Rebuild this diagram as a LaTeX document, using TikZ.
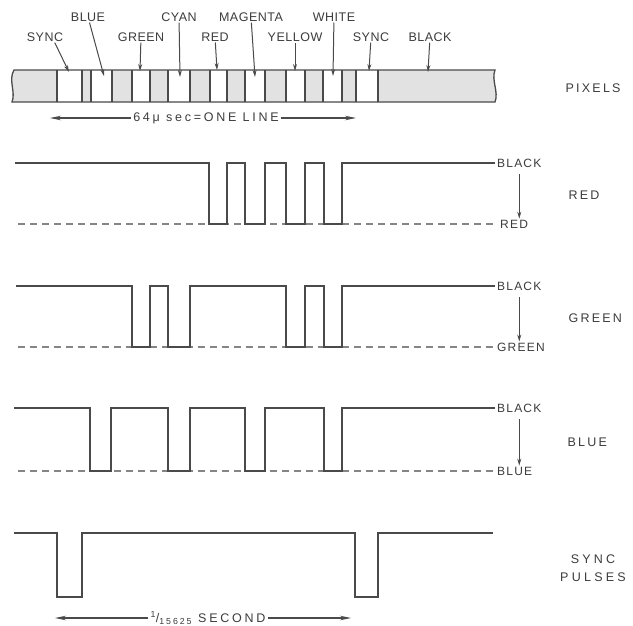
\documentclass[tikz,border=0pt]{standalone}
\usepackage{fontspec}
\setmainfont{Liberation Sans}
\usetikzlibrary{arrows.meta,positioning}
\definecolor{ink}{HTML}{4A4A4A}
\definecolor{lettering}{HTML}{3C3C3C}
\definecolor{dashgrey}{HTML}{858585}
\definecolor{barfill}{HTML}{E2E2E2}
\newfontfamily\tagfont[LetterSpace=4]{Liberation Sans}
\newfontfamily\levelfont[LetterSpace=10]{Liberation Sans}
\newfontfamily\sidefont[LetterSpace=18]{Liberation Sans}
\newfontfamily\pulsefont[LetterSpace=26]{Liberation Sans}
\newfontfamily\dimfont[LetterSpace=22]{Liberation Sans}

\begin{document}
\begin{tikzpicture}[
    x=1pt, y=-1pt,
    tag/.style={font=\tagfont\fontsize{12.5}{12}\selectfont, text=lettering, inner sep=1pt},
    level/.style={font=\levelfont\fontsize{12}{12}\selectfont, text=lettering, inner sep=1pt},
    side/.style={font=\sidefont\fontsize{12.5}{14}\selectfont, text=lettering, anchor=west},
    dim/.style={font=\dimfont\fontsize{12.5}{12}\selectfont, text=lettering, inner sep=2pt},
    ptr/.style={ink, line width=1pt, -{Stealth[length=7pt,width=4pt]}},
    dimline/.style={ink, line width=1.1pt, -{Stealth[length=11pt,width=4.5pt]}},
    barline/.style={ink, line width=1.3pt},
    wave/.style={ink, line width=1.3pt},
    base/.style={dashgrey, line width=1.3pt, dash pattern=on 7pt off 5pt}
]
    \useasboundingbox (0,0) rectangle (633,625);
    \fill[white] (0,0) rectangle (633,625);

    % the line of pixels
    \fill[barfill] (14,70) -- (495,70) .. controls (491,80) and (499,92) .. (495,102)
        -- (12,102) .. controls (16,92) and (8,80) .. (14,70) -- cycle;
    \foreach \a/\b in {57/82, 91/112, 132/150, 168/190, 210/227, 245/265, 286/305, 323/342, 356/378}
        \fill[white] (\a,70) rectangle (\b,102);
    \foreach \x in {57,82,91,112,132,150,168,190,210,227,245,265,286,305,323,342,356,378}
        \draw[barline] (\x,70) -- (\x,102);
    \draw[barline] (14,70) -- (495,70) .. controls (491,80) and (499,92) .. (495,102)
        -- (12,102) .. controls (16,92) and (8,80) .. (14,70) -- cycle;

    % pixel names
    \node[tag] (blue) at (88,17) {BLUE};
    \node[tag] (cyan) at (179,17) {CYAN};
    \node[tag] (magenta) at (251,17) {MAGENTA};
    \node[tag] (white) at (334,17) {WHITE};
    \node[tag] (sync1) at (45,37) {SYNC};
    \node[tag] (green) at (141,37) {GREEN};
    \node[tag] (red) at (215,37) {RED};
    \node[tag] (yellow) at (295,37) {YELLOW};
    \node[tag] (sync2) at (371,37) {SYNC};
    \node[tag] (black) at (430,37) {BLACK};

    \coordinate (p-sync1) at (69,72);
    \coordinate (p-blue) at (104,76);
    \coordinate (p-green) at (140,71);
    \coordinate (p-cyan) at (180,77);
    \coordinate (p-red) at (217,70);
    \coordinate (p-magenta) at (255,77);
    \coordinate (p-yellow) at (295,71);
    \coordinate (p-white) at (333,76);
    \coordinate (p-sync2) at (369,71);
    \coordinate (p-black) at (428,72);

    \draw[ptr] (sync1.-30) -- (p-sync1);
    \draw[ptr] (blue) -- (p-blue);
    \draw[ptr] (green) -- (p-green);
    \draw[ptr] (cyan) -- (p-cyan);
    \draw[ptr] (red) -- (p-red);
    \draw[ptr] (magenta) -- (p-magenta);
    \draw[ptr] (yellow) -- (p-yellow);
    \draw[ptr] (white) -- (p-white);
    \draw[ptr] (sync2) -- (p-sync2);
    \draw[ptr] (black) -- (p-black);

    % one line
    \node[dim] (oneline) at (206,118) {64μ sec=ONE LINE};
    \coordinate (ol-l) at (50,118);
    \coordinate (ol-r) at (356,118);
    \draw[dimline] (oneline) -- (ol-l);
    \draw[dimline] (oneline) -- (ol-r);

    % red
    \coordinate (r-hi) at (495,163);
    \coordinate (r-lo) at (495,224);
    \draw[base] (18,224) -- (r-lo);
    \draw[wave] (15,163) -| (209,224) -| (227,163) -| (245,224) -| (265,163)
        -| (286,224) -| (305,163) -| (324,224) -| (342,163) -- (r-hi);
    \node[level, right=1pt of r-hi] (r-black) {BLACK};
    \node[level, right=4pt of r-lo] (r-red) {RED};
    \draw[ptr, shorten <=6pt] (r-black) -- (r-black |- r-red.north);

    % green
    \coordinate (g-hi) at (495,286);
    \coordinate (g-lo) at (495,347);
    \draw[base] (18,347) -- (g-lo);
    \draw[wave] (16,286) -| (132,347) -| (150,286) -| (168,347) -| (190,286)
        -| (286,347) -| (305,286) -| (324,347) -| (342,286) -- (g-hi);
    \node[level, right=1pt of g-hi] (g-black) {BLACK};
    \node[level, right=1pt of g-lo] (g-green) {GREEN};
    \draw[ptr, shorten <=6pt] (r-black |- g-black.south) -- (r-black |- g-green.north);

    % blue
    \coordinate (b-hi) at (495,408);
    \coordinate (b-lo) at (495,471);
    \draw[base] (18,471) -- (b-lo);
    \draw[wave] (14,408) -| (90,471) -| (111,408) -| (168,471) -| (190,408)
        -| (245,471) -| (265,408) -| (324,471) -| (342,408) -- (b-hi);
    \node[level, right=1pt of b-hi] (b-black) {BLACK};
    \node[level, right=1pt of b-lo] (b-blue) {BLUE};
    \draw[ptr, shorten <=6pt] (r-black |- b-black.south) -- (r-black |- b-blue.north);

    % sync pulses
    \coordinate (s-hi) at (493,533);
    \draw[wave] (14,533) -| (57,597) -| (82,533) -| (355,597) -| (378,533) -- (s-hi);
    \node[dim] (period) at (208,618) {\textsuperscript{1}/\textsubscript{15625} SECOND};
    \coordinate (pd-l) at (55,618);
    \coordinate (pd-r) at (351,618);
    \draw[dimline] (period) -- (pd-l);
    \draw[dimline] (period) -- (pd-r);

    % names on the right
    \node[side] (pixels) at (562,88) {PIXELS};
    \node[side] (red-side) at (565,195) {RED};
    \node[side] (green-side) at (565,318) {GREEN};
    \node[side] (blue-side) at (564,442) {BLUE};
    \node[font=\pulsefont\fontsize{12.5}{18}\selectfont, text=lettering, align=center] (sync-side) at (593,568) {SYNC\\PULSES};
\end{tikzpicture}
\end{document}
